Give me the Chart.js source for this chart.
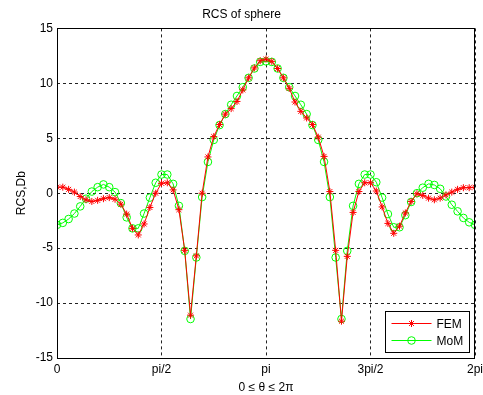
<!DOCTYPE html>
<html>
<head>
<meta charset="utf-8">
<script src="https://cdn.jsdelivr.net/npm/chart.js@4.4.0/dist/chart.umd.min.js"></script>
<style>
html, body { margin: 0; padding: 0; background: #fff; }
</style>
</head>
<body>
<canvas id="myChart" width="483" height="395"></canvas>
<script>
// angle in degrees, 5 degree steps
const angleDeg = [0, 5, 10, 15, 20, 25, 30, 35, 40, 45, 50, 55, 60, 65, 70, 75, 80, 85, 90,
  95, 100, 105, 110, 115, 120, 125, 130, 135, 140, 145, 150, 155, 160, 165, 170, 175, 180,
  185, 190, 195, 200, 205, 210, 215, 220, 225, 230, 235, 240, 245, 250, 255, 260, 265, 270,
  275, 280, 285, 290, 295, 300, 305, 310, 315, 320, 325, 330, 335, 340, 345, 350, 355, 360];

const fem = [0.55, 0.55, 0.35, 0.1, -0.3, -0.6, -0.75, -0.65, -0.5, -0.4, -0.55, -1.0, -1.9,
  -3.2, -3.8, -2.8, -1.3, 0.0, 0.9, 0.95, 0.3, -1.5, -5.2, -11.1, -5.7, 0.0, 3.3, 5.15, 6.25,
  7.2, 7.7, 8.35, 9.4, 10.5, 11.4, 12.05, 12.2, 12.0, 11.35, 10.5, 9.55, 8.3, 7.45, 6.85, 6.25,
  5.1, 3.35, 0.15, -5.2, -11.65, -5.75, -1.75, 0.15, 0.95, 0.95, 0.2, -1.25, -2.75, -3.65,
  -3.0, -1.8, -0.75, -0.05, -0.2, -0.45, -0.6, -0.45, -0.15, 0.1, 0.35, 0.5, 0.5, 0.55];

const mom = [-2.88, -2.7, -2.35, -1.85, -1.2, -0.5, 0.15, 0.55, 0.8, 0.55, 0.1, -0.9, -2.2,
  -3.2, -3.2, -1.85, -0.4, 0.95, 1.7, 1.7, 0.85, -1.15, -5.25, -11.45, -5.85, -0.35, 2.85,
  4.85, 6.2, 7.2, 8.05, 8.85, 9.65, 10.5, 11.35, 11.95, 12.0, 11.95, 11.35, 10.5, 9.65, 8.85,
  8.05, 7.2, 6.2, 4.85, 2.85, -0.35, -5.85, -11.45, -5.25, -1.15, 0.85, 1.7, 1.7, 1.0, -0.4,
  -1.9, -3.1, -3.1, -2.0, -0.8, 0.0, 0.5, 0.85, 0.75, 0.4, -0.3, -1.05, -1.65, -2.25, -2.65, -2.88];

const xTickDeg = [0, 90, 180, 270, 360];
const xTickLabels = ['0', 'pi/2', 'pi', '3pi/2', '2pi'];
const seriesNames = ['FEM', 'MoM'];

const font = 'Liberation Sans, Arial, sans-serif';

function points(ys) {
  return ys.map((y, i) => ({ x: angleDeg[i], y: y }));
}

// solid box round the axes
const boxPlugin = {
  id: 'box',
  afterDatasetsDraw(chart) {
    const a = chart.chartArea;
    const ctx = chart.ctx;
    ctx.save();
    ctx.strokeStyle = '#000';
    ctx.lineWidth = 1;
    ctx.strokeRect(Math.round(a.left) + 0.5, Math.round(a.top) + 0.5,
      Math.round(a.right - a.left) - 1, Math.round(a.bottom - a.top));
    ctx.restore();
  }
};

// legend box in the lower right corner
const legendPlugin = {
  id: 'boxLegend',
  afterDraw(chart) {
    const ctx = chart.ctx;
    const a = chart.chartArea;
    const w = 84, h = 41;
    const x0 = Math.round(a.right) - 89.5, y0 = Math.round(a.bottom) - 46.5;
    ctx.save();
    ctx.fillStyle = '#fff';
    ctx.fillRect(x0, y0, w, h);
    ctx.strokeStyle = '#000';
    ctx.lineWidth = 1;
    ctx.strokeRect(x0, y0, w, h);
    ctx.font = '12px ' + font;
    ctx.textBaseline = 'middle';
    chart.data.datasets.forEach((ds, i) => {
      const y = y0 + 12 + i * 17;
      ctx.strokeStyle = ds.borderColor;
      ctx.beginPath();
      ctx.moveTo(x0 + 6, y);
      ctx.lineTo(x0 + 46, y);
      ctx.stroke();
      const cx = x0 + 26;
      const r = ds.pointRadius;
      ctx.beginPath();
      if (ds.pointStyle === 'star') {
        ctx.moveTo(cx - r, y); ctx.lineTo(cx + r, y);
        ctx.moveTo(cx, y - r); ctx.lineTo(cx, y + r);
        const d = r * 0.7;
        ctx.moveTo(cx - d, y - d); ctx.lineTo(cx + d, y + d);
        ctx.moveTo(cx - d, y + d); ctx.lineTo(cx + d, y - d);
      } else {
        ctx.arc(cx, y, r, 0, Math.PI * 2);
      }
      ctx.stroke();
      ctx.fillStyle = '#000';
      ctx.fillText(ds.label, x0 + 51, y + 1);
    });
    ctx.restore();
  }
};

const ctx = document.getElementById('myChart');
const myChart = new Chart(ctx, {
  type: 'line',
  data: {
    datasets: [{
      label: seriesNames[0],
      data: points(fem),
      borderColor: '#ff0000',
      backgroundColor: 'rgba(0,0,0,0)',
      borderWidth: 1,
      pointStyle: 'star',
      pointRadius: 3.5,
      pointBorderWidth: 1,
      tension: 0
    }, {
      label: seriesNames[1],
      data: points(mom),
      borderColor: '#00ff00',
      backgroundColor: 'rgba(0,0,0,0)',
      borderWidth: 1,
      pointStyle: 'circle',
      pointRadius: 3.8,
      pointBorderWidth: 1,
      tension: 0
    }]
  },
  options: {
    responsive: false,
    animation: false,
    devicePixelRatio: 1,
    layout: { padding: { top: 0, right: 0, bottom: 0, left: 0 } },
    plugins: {
      legend: { display: false },
      tooltip: { enabled: false },
      title: {
        display: true,
        text: 'RCS of sphere',
        color: '#000',
        font: { family: font, size: 12, weight: 'normal' },
        padding: { top: 7, bottom: 7 }
      }
    },
    scales: {
      x: {
        type: 'linear',
        min: 0,
        max: 360,
        afterBuildTicks: s => { s.ticks = xTickDeg.map(v => ({ value: v })); },
        afterFit: s => { s.height = 37; s.paddingLeft = 0; s.paddingRight = 8; },
        ticks: {
          color: '#000',
          font: { family: font, size: 12 },
          padding: 4,
          maxRotation: 0,
          callback: (v) => xTickLabels[xTickDeg.indexOf(v)]
        },
        grid: {
          color: '#222',
          drawTicks: false
        },
        border: { display: false, dash: [3, 3] },
        title: {
          display: true,
          text: '0 \u2264 \u03b8 \u2264 2\u03c0',
          color: '#000',
          font: { family: font, size: 12 },
          padding: { top: 0, bottom: 0 }
        }
      },
      y: {
        min: -15,
        max: 15,
        afterFit: s => { s.width = 57; },
        ticks: {
          stepSize: 5,
          color: '#000',
          font: { family: font, size: 12 },
          padding: 4
        },
        grid: {
          color: '#222',
          drawTicks: false
        },
        border: { display: false, dash: [3, 3] },
        title: {
          display: true,
          text: 'RCS,Db',
          color: '#000',
          font: { family: font, size: 12 },
          padding: { top: 14, bottom: 0 }
        }
      }
    }
  },
  plugins: [boxPlugin, legendPlugin]
});
</script>
</body>
</html>
